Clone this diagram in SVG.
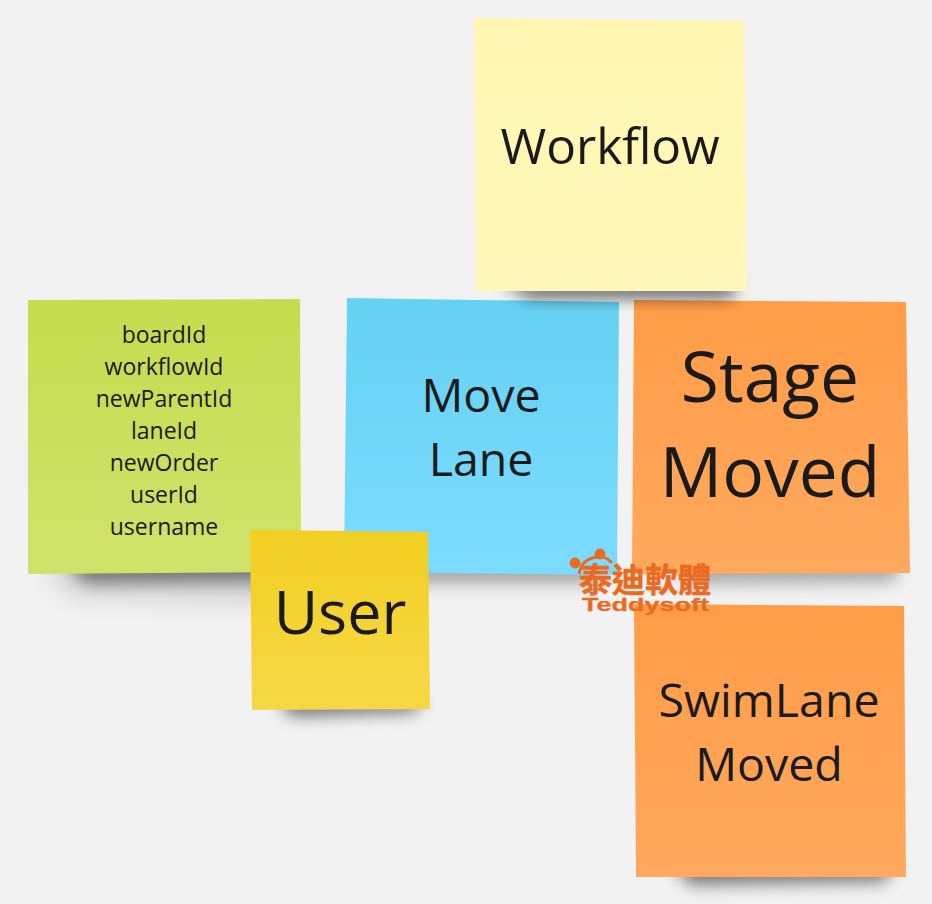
<svg xmlns="http://www.w3.org/2000/svg" width="932" height="904" viewBox="0 0 932 904">
<style>
.t{font-family:"Open Sans","Noto Sans",sans-serif;fill:#1a1a1a;text-anchor:middle}
.s{fill:#000;filter:url(#b)}
.f{fill:#000;filter:url(#c)}
.wm{fill:#ea6a1f;stroke:#ea6a1f}
</style>
<defs>
<filter id="b" x="-30%" y="-80%" width="160%" height="260%"><feGaussianBlur stdDeviation="8"/></filter>
<filter id="c" x="-30%" y="-80%" width="160%" height="260%"><feGaussianBlur stdDeviation="14"/></filter>
<linearGradient id="yl" x1="0" y1="0" x2="0" y2="1"><stop offset="0" stop-color="#fff6b2"/><stop offset="1" stop-color="#fff8ba"/></linearGradient>
<linearGradient id="gr" x1="0" y1="0" x2="0" y2="1"><stop offset="0" stop-color="#c5dc4f"/><stop offset="1" stop-color="#cfe36b"/></linearGradient>
<linearGradient id="bl" x1="0" y1="0" x2="0" y2="1"><stop offset="0" stop-color="#65d1f3"/><stop offset="1" stop-color="#7cdcff"/></linearGradient>
<linearGradient id="or" x1="0" y1="0" x2="0" y2="1"><stop offset="0" stop-color="#ff9c47"/><stop offset="1" stop-color="#ffa95e"/></linearGradient>
<linearGradient id="us" x1="0" y1="0" x2="0" y2="1"><stop offset="0" stop-color="#f2cf22"/><stop offset="1" stop-color="#f6d846"/></linearGradient>
</defs>
<rect width="932" height="904" fill="#f2f2f2"/>
<g id="connectors"/>
<g id="blue">
<polygon class="s" opacity=".3" points="380,558 605,558 600,584 400,584"/>
<polygon points="347,298 619,302 617,575 344,572" fill="url(#bl)"/>
<text class="t" font-size="46.5" x="481" y="412">Move</text>
<text class="t" font-size="46.5" x="481" y="476">Lane</text>
</g>
<g id="stage">
<polygon class="s" opacity=".3" points="665,558 900,558 895,582 690,584"/>
<polygon points="634,300 906,302 910,573 632,574" fill="url(#or)"/>
<text class="t" font-size="69.5" x="770" y="402">Stage</text>
<text class="t" font-size="69.5" x="770" y="497">Moved</text>
</g>
<g id="swimlane">
<polygon class="s" opacity=".5" points="670,862 895,862 885,882 690,885"/>
<polygon points="634,604 904,606 906,877 636,877" fill="url(#or)"/>
<text class="t" font-size="46.5" x="769" y="717">SwimLane</text>
<text class="t" font-size="46.5" x="769" y="781">Moved</text>
</g>
<g id="green">
<polygon class="f" opacity=".18" points="45,560 290,560 280,598 70,592"/>
<polygon class="s" opacity=".45" points="65,558 290,556 280,580 85,582"/>
<polygon points="28,300 300,299 301,572 28,574" fill="url(#gr)"/>
<g class="t" font-size="23">
<text x="164" y="342.500">boardId</text>
<text x="164" y="374.500">workflowId</text>
<text x="164" y="406.500">newParentId</text>
<text x="164" y="438.500">laneId</text>
<text x="164" y="470.500">newOrder</text>
<text x="164" y="502.500">userId</text>
<text x="164" y="534.500">username</text>
</g>
</g>
<g id="user">
<polygon class="s" opacity=".55" points="275,698 424,698 414,712 292,716"/>
<polygon points="250,530 428,532 430,709 252,710" fill="url(#us)"/>
<text class="t" font-size="61" x="340" y="634">User</text>
</g>
<g id="workflow">
<polygon class="s" opacity=".6" points="500,282 740,282 730,298 530,298"/>
<polygon points="474,18 744,21 747,291 476,291" fill="url(#yl)"/>
<text class="t" font-size="49.500" x="610" y="164">Workflow</text>
</g>
<g id="watermark">
<circle class="wm" cx="575" cy="563" r="5" stroke="none"/>
<circle class="wm" cx="600" cy="554" r="5" stroke="none"/>
<path d="M579,574 Q582,557 600,557 Q607,557 612,563" fill="none" stroke="#ea6a1f" stroke-width="3"/>
<text class="wm" stroke-width=".6" font-family="'Noto Sans CJK TC','Noto Sans CJK SC',sans-serif" font-size="33" font-weight="700" x="579" y="592" textLength="132">泰迪軟體</text>
<text class="wm" stroke-width=".3" font-family="'Liberation Sans',sans-serif" font-size="19" font-weight="700" x="582" y="611" textLength="127" lengthAdjust="spacingAndGlyphs">Teddysoft</text>
</g>
</svg>
